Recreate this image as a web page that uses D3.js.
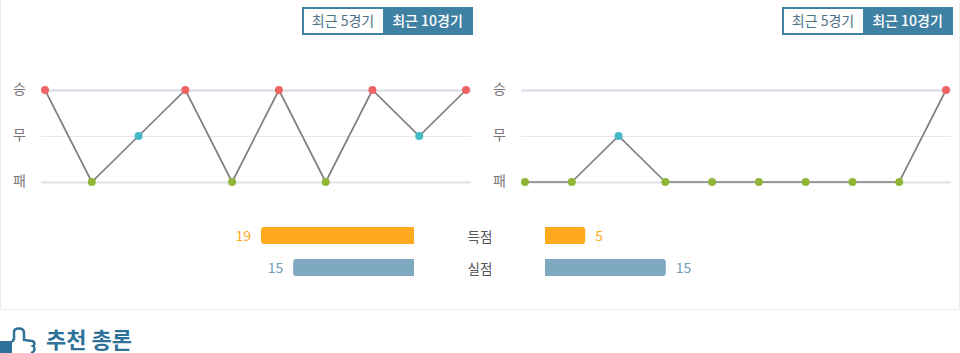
<!DOCTYPE html>
<html>
<head>
<meta charset="utf-8">
<script src="https://cdn.jsdelivr.net/npm/d3@7"></script>
<style>
html, body { margin: 0; padding: 0; background: #fff; overflow: hidden; }
text { font-family: "Noto Sans CJK KR", "Noto Sans", sans-serif; }
</style>
</head>
<body>
<div id="chart-area"></div>
<script>
// data
var outcomes = ["승", "무", "패"];
var games = [1, 2, 3, 4, 5, 6, 7, 8, 9, 10];
var homeForm = ["승", "패", "무", "승", "패", "승", "패", "승", "무", "승"];
var awayForm = ["패", "패", "무", "패", "패", "패", "패", "패", "패", "승"];
var buttonLabels = ["최근 5경기", "최근 10경기"];
var statLabels = ["득점", "실점"];
var homeStats = [19, 15];
var awayStats = [5, 15];
var heading = "추천 총론";

var outcomeColors = { "승": "#ee6464", "무": "#43b9c6", "패": "#8fb636" };
var statColors = ["#ffa91e", "#7fa9c1"];
var statTextColors = ["#ffa91e", "#6f9fbb"];

var svg = d3.select("#chart-area")
    .append("svg")
        .attr("width", 960)
        .attr("height", 353)
        .style("display", "block");

// panel border
svg.append("path")
    .attr("d", "M0.5,0V309.5H959.5V0")
    .attr("fill", "none")
    .attr("stroke", "#eeeeee");

// y scale, shared by both form charts
var y = d3.scalePoint()
    .domain(outcomes)
    .range([90, 182]);

// x scale, positions inside one form chart
var x = d3.scalePoint()
    .domain(games)
    .range([45, 466]);

var gridColors = { "승": "#d6d9e6", "무": "#e8e8e8", "패": "#e2e2e2" };
var gridWidths = { "승": 2, "무": 1, "패": 2 };

function drawForm(form, dx) {
    var g = svg.append("g")
        .attr("transform", "translate(" + dx + ",0)");

    // y axis with full width ticks as grid lines
    var yAxisCall = d3.axisLeft(y)
        .tickSize(-430)
        .tickPadding(15);
    var yAxis = g.append("g")
        .attr("transform", "translate(41,0)")
        .call(yAxisCall);
    yAxis.select(".domain").remove();
    yAxis.selectAll("line")
        .attr("stroke", function(d){ return gridColors[d]; })
        .attr("stroke-width", function(d){ return gridWidths[d]; });
    yAxis.selectAll("text")
        .attr("font-size", "14px")
        .attr("fill", "#777777")
        .attr("dy", "0.25em");

    var line = d3.line()
        .x(function(d, i){ return x(games[i]); })
        .y(function(d){ return y(d); });

    g.append("path")
        .attr("d", line(form))
        .attr("fill", "none")
        .attr("stroke", "#808080")
        .attr("stroke-width", 1.7);

    g.selectAll("circle")
        .data(form)
        .enter()
        .append("circle")
            .attr("cx", function(d, i){ return x(games[i]); })
            .attr("cy", function(d){ return y(d); })
            .attr("r", 4)
            .attr("fill", function(d){ return outcomeColors[d]; });

    // 5 / 10 game toggle
    var btn = g.append("g").attr("transform", "translate(302,7)");
    btn.append("rect")
        .attr("width", 171).attr("height", 28)
        .attr("fill", "#3f81a3");
    btn.append("rect")
        .attr("x", 2).attr("y", 2)
        .attr("width", 79).attr("height", 24)
        .attr("fill", "#ffffff");
    btn.selectAll("text")
        .data(buttonLabels)
        .enter()
        .append("text")
            .attr("x", function(d, i){ return i == 0 ? 41 : 125.5; })
            .attr("y", 19)
            .attr("text-anchor", "middle")
            .attr("font-size", "14px")
            .attr("font-weight", function(d, i){ return i == 0 ? 400 : 500; })
            .attr("fill", function(d, i){ return i == 0 ? "#4f7186" : "#ffffff"; })
            .text(function(d){ return d; });
}

drawForm(homeForm, 0);
drawForm(awayForm, 480);

// goals bars
var barY = d3.scaleBand()
    .domain(statLabels)
    .range([227, 276])
    .paddingInner(0.47);
var barW = d3.scaleLinear()
    .domain([0, 19])
    .range([0, 153]);

// bar with only its outer corners rounded
function barPath(x0, w, top, h, dir) {
    var r = 3, xe = x0 + dir * w, sweep = dir > 0 ? 1 : 0;
    return "M" + x0 + "," + top
        + "H" + (xe - dir * r)
        + "A" + r + "," + r + " 0 0 " + sweep + " " + xe + "," + (top + r)
        + "V" + (top + h - r)
        + "A" + r + "," + r + " 0 0 " + sweep + " " + (xe - dir * r) + "," + (top + h)
        + "H" + x0 + "Z";
}

function drawBars(values, x0, dir) {
    var g = svg.append("g");
    g.selectAll("path")
        .data(values)
        .enter()
        .append("path")
            .attr("d", function(d, i){
                return barPath(x0, barW(d), barY(statLabels[i]), barY.bandwidth(), dir);
            })
            .attr("fill", function(d, i){ return statColors[i]; });
    g.selectAll("text")
        .data(values)
        .enter()
        .append("text")
            .attr("x", function(d){ return x0 + dir * (barW(d) + 10); })
            .attr("y", function(d, i){ return barY(statLabels[i]) + 14; })
            .attr("text-anchor", dir > 0 ? "start" : "end")
            .attr("font-size", "14px")
            .attr("fill", function(d, i){ return statTextColors[i]; })
            .text(function(d){ return d; });
}

drawBars(homeStats, 414, -1);
drawBars(awayStats, 545, 1);

svg.append("g").selectAll("text")
    .data(statLabels)
    .enter()
    .append("text")
        .attr("x", 480)
        .attr("y", function(d){ return barY(d) + 15; })
        .attr("text-anchor", "middle")
        .attr("font-size", "13.5px")
        .attr("fill", "#555555")
        .text(function(d){ return d; });

// section heading with thumbs up icon
var icon = svg.append("g");
icon.append("path")
    .attr("d", "M0,341H12V353H0Z")
    .attr("fill", "#2f7199");
icon.append("path")
    .attr("d", "M12,342L14,339V332C14,329 16,328.5 19,328.5C22,328.5 24,330 24,333V340L32,341C35,341.5 35,345 33,346C35,347 35,351 33,352L31,353")
    .attr("fill", "none")
    .attr("stroke", "#2f7199")
    .attr("stroke-width", 2.5);

svg.append("text")
    .attr("x", 46)
    .attr("y", 348)
    .attr("font-size", "22px")
    .attr("font-weight", 700)
    .attr("fill", "#2f7199")
    .text(heading);
</script>
</body>
</html>
